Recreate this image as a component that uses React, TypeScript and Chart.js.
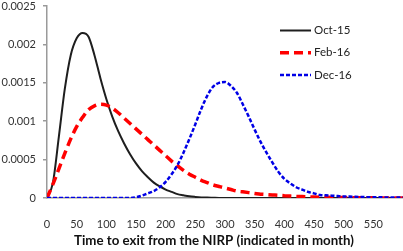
import React, { useEffect, useRef } from "react";
import { Chart, registerables } from "chart.js";

Chart.register(...registerables);

const months = [
  0, 10, 20, 30, 40, 50, 60, 70, 80, 90, 100, 110, 120, 130, 140, 150, 160, 170, 180, 190,
  200, 210, 220, 230, 240, 250, 260, 270, 280, 290, 300, 310, 320, 330, 340, 350, 360, 370, 380, 390,
  400, 410, 420, 430, 440, 450, 460, 470, 480, 490, 500, 510, 520, 530, 540, 550, 560, 570, 580, 590, 600,
];

const oct15 = [
  0, 0.0002, 0.0008, 0.00142, 0.00186, 0.00208, 0.00215, 0.0021, 0.00186, 0.00156, 0.00129, 0.00106, 0.00087, 0.00071, 0.00057, 0.00045, 0.00035, 0.00027, 0.0002, 0.00015,
  0.00011, 0.00008, 0.00005, 0.000035, 0.000022, 0.000014, 0.000008, 0.000005, 0.000003, 0.000001, 0, 0, 0, 0, 0, 0, 0, 0, 0, 0,
  0, 0, 0, 0, 0, 0, 0, 0, 0, 0, 0, 0, 0, 0, 0, 0, 0, 0, 0, 0, 0,
];

const feb16 = [
  0, 0.00018, 0.00038, 0.00058, 0.00077, 0.00093, 0.00105, 0.00115, 0.0012, 0.00122, 0.00121, 0.00117, 0.00111, 0.00104, 0.00097, 0.0009, 0.00083, 0.00076, 0.00069, 0.00062,
  0.00055, 0.00048, 0.00042, 0.00036, 0.00031, 0.00027, 0.00023, 0.0002, 0.00017, 0.00015, 0.00013, 0.00011, 0.00009, 0.00008, 0.00007, 0.00006, 0.00005, 0.000045, 0.00004, 0.000035,
  0.00003, 0.000025, 0.00002, 0.000018, 0.000015, 0.000012, 0.00001, 0.000009, 0.000008, 0.000006, 0.000005, 0.000004, 0.000004, 0.000003, 0.000003, 0.000002, 0.000002, 0.000001, 0.000001, 0.000001, 0,
];

const dec16 = [
  0, 0, 0, 0, 0, 0, 0, 0, 0, 0, 0, 0, 0, 0, 0, 0.00001, 0.00003, 0.00006, 0.00009, 0.00014,
  0.00021, 0.00031, 0.00043, 0.00059, 0.00077, 0.00096, 0.00116, 0.00133, 0.00145, 0.0015, 0.00151, 0.00146, 0.00137, 0.00122, 0.00106, 0.00089, 0.00073, 0.00059, 0.00046, 0.00034,
  0.00025, 0.00019, 0.00014, 0.00011, 0.00008, 0.00006, 0.00004, 0.000035, 0.00003, 0.000025, 0.00002, 0.000018, 0.000015, 0.000013, 0.000011, 0.00001, 0.000009, 0.000008, 0.000007, 0.000006, 0.000005,
];

const seriesNames = ["Oct-15", "Feb-16", "Dec-16"];
const yTicks = [0, 0.0005, 0.001, 0.0015, 0.002, 0.0025];
const xTitle = "Time to exit from the NIRP (indicated in month)";

const FONT = "Lato, 'Open Sans', sans-serif";

export default function App() {
  const ref = useRef<HTMLCanvasElement | null>(null);

  useEffect(() => {
    document.body.style.margin = "0";
    const canvas = ref.current;
    if (!canvas) return;

    const styles = [
      { color: "#1e1e1e", width: 2, dash: [] as number[] },
      { color: "#ff0000", width: 3.5, dash: [9, 5] },
      { color: "#0000e6", width: 2.5, dash: [4, 2] },
    ];
    const seriesData = [oct15, feb16, dec16];

    const overlay = {
      id: "overlay",
      afterDraw(chart: any) {
        const ctx = chart.ctx as CanvasRenderingContext2D;
        const area = chart.chartArea;
        ctx.save();
        const lx0 = 280, lx1 = 311, tx = 314;
        const rows = [30.5, 52.7, 75];
        seriesNames.forEach((name, i) => {
          const s = styles[i];
          ctx.strokeStyle = s.color;
          ctx.lineWidth = s.width;
          ctx.setLineDash(s.dash);
          ctx.beginPath();
          ctx.moveTo(lx0, rows[i]);
          ctx.lineTo(lx1, rows[i]);
          ctx.stroke();
          ctx.setLineDash([]);
          ctx.fillStyle = "#222";
          ctx.font = `11.5px ${FONT}`;
          ctx.textAlign = "left";
          ctx.textBaseline = "middle";
          ctx.fillText(name, tx, rows[i]);
        });
        ctx.fillStyle = "#111";
        ctx.font = `bold 13.3px ${FONT}`;
        ctx.textAlign = "center";
        ctx.textBaseline = "middle";
        ctx.fillText(xTitle, area.left + 167, 241);
        ctx.restore();
      },
    };

    const chart = new Chart(canvas, {
      type: "line",
      data: {
        labels: months,
        datasets: seriesNames.map((name, i) => ({
          label: name,
          data: months.map((m, j) => ({ x: m, y: seriesData[i][j] })),
          borderColor: styles[i].color,
          borderWidth: styles[i].width,
          borderDash: styles[i].dash,
          pointRadius: 0,
          fill: false,
          tension: 0.4,
          cubicInterpolationMode: "monotone" as const,
          order: 3 - i,
        })),
      },
      options: {
        animation: false,
        responsive: false,
        maintainAspectRatio: false,
        layout: { padding: { top: 6, left: 0, right: 0, bottom: 0 } },
        plugins: {
          legend: { display: false },
          tooltip: { enabled: false },
        },
        scales: {
          x: {
            type: "linear",
            min: 0,
            max: 600,
            afterFit: (s: any) => {
              s.height = 53;
              s.paddingLeft = 0;
              s.paddingRight = 0;
            },
            ticks: {
              stepSize: 50,
              padding: 20,
              color: "#333",
              font: { family: FONT, size: 11 },
              maxRotation: 0,
              callback: (v: any) => (Number(v) >= 600 ? "" : String(v)),
            },
            grid: { display: false, drawTicks: false },
            border: { display: true, color: "#9a9a9a", width: 1.5 },
          },
          y: {
            min: 0,
            max: 0.0025,
            afterBuildTicks: (s: any) => {
              s.ticks = yTicks.map((v) => ({ value: v }));
            },
            afterFit: (s: any) => {
              s.width = 47;
              s.paddingTop = 0;
              s.paddingBottom = 0;
            },
            ticks: {
              padding: 7,
              color: "#333",
              font: { family: FONT, size: 11 },
              callback: (v: any) => String(Number(Number(v).toFixed(4))),
            },
            grid: {
              drawOnChartArea: false,
              drawTicks: true,
              tickLength: 4,
              color: "#9a9a9a",
              lineWidth: 1.5,
            },
            border: { display: true, color: "#9a9a9a", width: 1.5 },
          },
        },
      },
      plugins: [overlay],
    });

    return () => chart.destroy();
  }, []);

  return (
    <div style={{ width: 403, height: 251 }}>
      <canvas ref={ref} width={403} height={251} style={{ display: "block" }} />
    </div>
  );
}
